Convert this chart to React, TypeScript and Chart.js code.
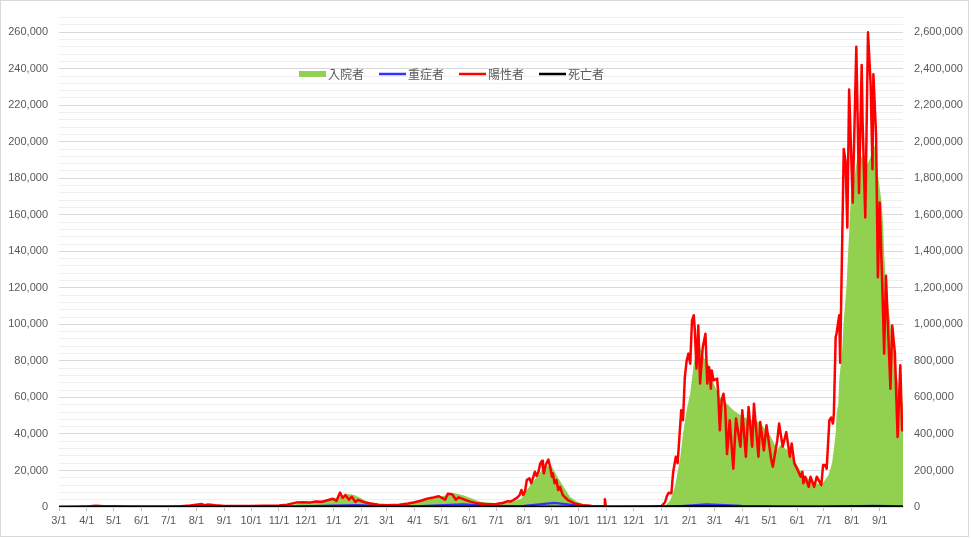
import React, { useEffect, useRef } from 'react';
import { Chart, registerables } from 'chart.js';

Chart.register(...registerables);

// ---------- data ----------
const seriesNames = ['入院者', '重症者', '陽性者', '死亡者'];

const xTickDates = [
  '2020-03-01', '2020-04-01', '2020-05-01', '2020-06-01', '2020-07-01', '2020-08-01', '2020-09-01',
  '2020-10-01', '2020-11-01', '2020-12-01', '2021-01-01', '2021-02-01', '2021-03-01', '2021-04-01',
  '2021-05-01', '2021-06-01', '2021-07-01', '2021-08-01', '2021-09-01', '2021-10-01', '2021-11-01',
  '2021-12-01', '2022-01-01', '2022-02-01', '2022-03-01', '2022-04-01', '2022-05-01', '2022-06-01',
  '2022-07-01', '2022-08-01', '2022-09-01',
];
const xTickLabels = [
  '3/1', '4/1', '5/1', '6/1', '7/1', '8/1', '9/1', '10/1', '11/1', '12/1', '1/1', '2/1', '3/1', '4/1',
  '5/1', '6/1', '7/1', '8/1', '9/1', '10/1', '11/1', '12/1', '1/1', '2/1', '3/1', '4/1', '5/1', '6/1',
  '7/1', '8/1', '9/1',
];
const xStartDate = '2020-03-01';
const xEndDate = '2022-09-27';

// 入院者 (right axis)
const hospitalized: [string, number][] = [
  ['2020-03-01', 0], ['2020-03-25', 1500], ['2020-04-10', 5000], ['2020-04-25', 9500],
  ['2020-05-05', 10500], ['2020-05-20', 3000], ['2020-06-10', 1000], ['2020-07-01', 1200],
  ['2020-07-20', 5000], ['2020-08-05', 13000], ['2020-08-15', 14000], ['2020-09-01', 8000],
  ['2020-10-01', 5000], ['2020-11-01', 6000], ['2020-11-20', 15000], ['2020-12-05', 22000],
  ['2020-12-20', 29000], ['2020-12-31', 47000], ['2021-01-10', 60000], ['2021-01-17', 71000],
  ['2021-01-24', 65500], ['2021-02-01', 47000], ['2021-02-08', 29000], ['2021-02-16', 20000],
  ['2021-02-21', 15000], ['2021-03-12', 14000], ['2021-04-07', 29000], ['2021-04-22', 47000],
  ['2021-05-07', 65500], ['2021-05-16', 75000], ['2021-05-25', 65000], ['2021-06-04', 47000],
  ['2021-06-13', 29000], ['2021-07-01', 20000], ['2021-07-20', 29000], ['2021-07-29', 47000],
  ['2021-08-04', 93000], ['2021-08-11', 138000], ['2021-08-17', 175000], ['2021-08-22', 211000],
  ['2021-08-28', 229000], ['2021-09-01', 220000], ['2021-09-06', 175000], ['2021-09-14', 111000],
  ['2021-09-21', 56000], ['2021-09-29', 29000], ['2021-10-06', 16000], ['2021-10-17', 11000],
  ['2021-11-01', 5000], ['2021-12-01', 2000], ['2022-01-01', 3000], ['2022-01-05', 5000],
  ['2022-01-11', 38000], ['2022-01-16', 111000], ['2022-01-22', 275000], ['2022-01-25', 402000],
  ['2022-01-29', 530000], ['2022-02-02', 621000], ['2022-02-06', 785000], ['2022-02-09', 857000],
  ['2022-02-13', 875000], ['2022-02-17', 820000], ['2022-02-24', 766000], ['2022-02-28', 676000],
  ['2022-03-07', 602000], ['2022-03-15', 566000], ['2022-03-22', 530000], ['2022-03-30', 502000],
  ['2022-04-06', 484000], ['2022-04-10', 475000], ['2022-04-14', 480000], ['2022-04-21', 459000],
  ['2022-05-02', 393000], ['2022-05-10', 311000], ['2022-05-13', 339000], ['2022-05-24', 302000],
  ['2022-06-01', 229000], ['2022-06-08', 175000], ['2022-06-16', 147000], ['2022-06-23', 129000],
  ['2022-06-29', 126000], ['2022-07-02', 147000], ['2022-07-06', 175000], ['2022-07-10', 239000],
  ['2022-07-14', 400000], ['2022-07-15', 512000], ['2022-07-17', 566000], ['2022-07-18', 700000],
  ['2022-07-21', 839000], ['2022-07-23', 1021000], ['2022-07-26', 1203000], ['2022-07-28', 1403000],
  ['2022-07-29', 1500000], ['2022-07-31', 1713000], ['2022-08-04', 1804000], ['2022-08-07', 1913000],
  ['2022-08-10', 1895000], ['2022-08-13', 1931000], ['2022-08-16', 1858000], ['2022-08-20', 1895000],
  ['2022-08-23', 1931000], ['2022-08-26', 1977000], ['2022-08-28', 1967000], ['2022-08-30', 1822000],
  ['2022-09-01', 1749000], ['2022-09-03', 1676000], ['2022-09-05', 1540000], ['2022-09-06', 1385000],
  ['2022-09-08', 1222000], ['2022-09-12', 1039000], ['2022-09-16', 875000], ['2022-09-20', 730000],
  ['2022-09-23', 621000], ['2022-09-27', 566000],
];

// 重症者 (left axis)
const severe: [string, number][] = [
  ['2020-03-01', 0], ['2020-04-30', 330], ['2020-06-15', 50], ['2020-08-20', 260],
  ['2020-10-01', 150], ['2020-11-15', 250], ['2020-12-31', 700], ['2021-01-26', 1040],
  ['2021-03-01', 420], ['2021-04-01', 400], ['2021-05-25', 1400], ['2021-06-30', 500],
  ['2021-08-01', 600], ['2021-09-04', 2200], ['2021-09-30', 800], ['2021-10-31', 150],
  ['2021-12-31', 50], ['2022-01-15', 250], ['2022-02-20', 1500], ['2022-03-31', 600],
  ['2022-05-15', 200], ['2022-06-30', 50], ['2022-08-25', 630], ['2022-09-27', 300],
];

// 陽性者 (left axis)
const positives: [string, number][] = [
  ['2020-03-01', 10], ['2020-03-20', 40], ['2020-04-01', 260], ['2020-04-11', 720],
  ['2020-04-20', 380], ['2020-05-01', 180], ['2020-05-15', 60], ['2020-06-01', 40],
  ['2020-06-20', 70], ['2020-07-01', 130], ['2020-07-15', 450], ['2020-07-25', 800],
  ['2020-08-01', 1300], ['2020-08-07', 1600], ['2020-08-10', 1000], ['2020-08-14', 1350],
  ['2020-08-22', 900], ['2020-09-01', 600], ['2020-09-15', 500], ['2020-10-01', 550],
  ['2020-10-15', 650], ['2020-11-01', 800], ['2020-11-10', 1300], ['2020-11-20', 2400],
  ['2020-11-28', 2600], ['2020-12-05', 2400], ['2020-12-12', 3000], ['2020-12-19', 2900],
  ['2020-12-26', 3800], ['2020-12-31', 4500], ['2021-01-04', 3300], ['2021-01-08', 7900],
  ['2021-01-11', 4900], ['2021-01-14', 6600], ['2021-01-18', 4000], ['2021-01-21', 5600],
  ['2021-01-25', 2800], ['2021-01-28', 3900], ['2021-02-04', 2600], ['2021-02-11', 1900],
  ['2021-02-20', 1300], ['2021-03-01', 1000], ['2021-03-15', 1300], ['2021-03-25', 1900],
  ['2021-04-01', 2600], ['2021-04-08', 3400], ['2021-04-15', 4500], ['2021-04-22', 5200],
  ['2021-04-28', 5900], ['2021-05-05', 4000], ['2021-05-08', 7200], ['2021-05-13', 7000],
  ['2021-05-17', 4000], ['2021-05-20', 5300], ['2021-05-27', 4000], ['2021-06-03', 2800],
  ['2021-06-10', 2000], ['2021-06-20', 1500], ['2021-07-01', 1700], ['2021-07-08', 2200],
  ['2021-07-14', 3200], ['2021-07-17', 3000], ['2021-07-20', 3800], ['2021-07-24', 5000],
  ['2021-07-27', 6500], ['2021-07-29', 9300], ['2021-07-31', 6600], ['2021-08-02', 8500],
  ['2021-08-04', 14700], ['2021-08-07', 15700], ['2021-08-09', 13000], ['2021-08-13', 19300],
  ['2021-08-15', 17000], ['2021-08-17', 19300], ['2021-08-19', 23900], ['2021-08-21', 25300],
  ['2021-08-22', 21100], ['2021-08-23', 18400], ['2021-08-25', 23000], ['2021-08-28', 26000],
  ['2021-08-30', 22000], ['2021-09-01', 16600], ['2021-09-02', 18400], ['2021-09-04', 13000],
  ['2021-09-06', 14700], ['2021-09-08', 9300], ['2021-09-10', 11000], ['2021-09-13', 6600],
  ['2021-09-15', 5600], ['2021-09-19', 3700], ['2021-09-26', 2000], ['2021-10-05', 1000],
  ['2021-10-15', 500], ['2021-10-29', 300], ['2021-10-30', 4300], ['2021-10-31', 300],
  ['2021-11-15', 150], ['2021-12-01', 100], ['2021-12-20', 200], ['2022-01-01', 500],
  ['2022-01-05', 2600], ['2022-01-07', 6000], ['2022-01-09', 7800], ['2022-01-12', 7500],
  ['2022-01-14', 19000], ['2022-01-17', 27500], ['2022-01-19', 24000], ['2022-01-23', 53000],
  ['2022-01-25', 47500], ['2022-01-27', 71000], ['2022-01-29', 80000], ['2022-01-31', 84000],
  ['2022-02-02', 78500], ['2022-02-04', 102000], ['2022-02-06', 105000], ['2022-02-07', 98000],
  ['2022-02-09', 75800], ['2022-02-11', 99400], ['2022-02-13', 67600], ['2022-02-16', 87600],
  ['2022-02-19', 94900], ['2022-02-21', 67600], ['2022-02-23', 76600], ['2022-02-25', 64800],
  ['2022-02-26', 74800], ['2022-02-28', 69400], ['2022-03-04', 70300], ['2022-03-05', 63900],
  ['2022-03-07', 42000], ['2022-03-09', 58400], ['2022-03-11', 62000], ['2022-03-13', 54800],
  ['2022-03-15', 29000], ['2022-03-18', 47500], ['2022-03-22', 21000], ['2022-03-25', 48400],
  ['2022-03-30', 33000], ['2022-04-01', 53000], ['2022-04-05', 27500], ['2022-04-08', 54800],
  ['2022-04-12', 33000], ['2022-04-14', 56600], ['2022-04-19', 27500], ['2022-04-21', 46600],
  ['2022-04-25', 31000], ['2022-04-28', 44800], ['2022-05-03', 26600], ['2022-05-05', 22000],
  ['2022-05-10', 36600], ['2022-05-12', 45700], ['2022-05-16', 33000], ['2022-05-20', 41000],
  ['2022-05-24', 27500], ['2022-05-26', 34800], ['2022-05-29', 23900], ['2022-06-01', 21000],
  ['2022-06-05', 16600], ['2022-06-07', 19300], ['2022-06-08', 13000], ['2022-06-10', 16600],
  ['2022-06-14', 11000], ['2022-06-16', 16600], ['2022-06-20', 11000], ['2022-06-23', 16600],
  ['2022-06-28', 12000], ['2022-06-30', 23000], ['2022-07-02', 23000], ['2022-07-04', 21000],
  ['2022-07-07', 47500], ['2022-07-09', 49000], ['2022-07-11', 45700], ['2022-07-12', 51000],
  ['2022-07-14', 93000], ['2022-07-15', 95000], ['2022-07-18', 105000], ['2022-07-19', 79000],
  ['2022-07-23', 196000], ['2022-07-25', 189500], ['2022-07-27', 153000], ['2022-07-29', 228600],
  ['2022-08-02', 166700], ['2022-08-06', 252000], ['2022-08-09', 172000], ['2022-08-12', 242000],
  ['2022-08-13', 211000], ['2022-08-16', 158600], ['2022-08-19', 260000], ['2022-08-22', 231000],
  ['2022-08-24', 185000], ['2022-08-25', 237000], ['2022-08-28', 204000], ['2022-08-30', 125800],
  ['2022-09-01', 166700], ['2022-09-04', 120000], ['2022-09-06', 84000], ['2022-09-08', 126700],
  ['2022-09-10', 102000], ['2022-09-13', 64800], ['2022-09-15', 99400], ['2022-09-18', 84000],
  ['2022-09-21', 38400], ['2022-09-24', 77600], ['2022-09-26', 42000], ['2022-09-27', 45000],
];

// 死亡者 (left axis)
const deaths: [string, number][] = [
  ['2020-03-01', 0], ['2020-05-01', 20], ['2020-08-20', 15], ['2021-01-27', 110],
  ['2021-05-20', 110], ['2021-09-01', 60], ['2021-11-15', 5], ['2022-02-22', 320],
  ['2022-04-01', 60], ['2022-06-15', 20], ['2022-08-30', 350], ['2022-09-27', 90],
];

const leftMax = 268000;
const leftStep = 4000;
const leftMajor = 20000;
const rightMax = 2680000;
const rightStep = 200000;

// ---------- helpers ----------
const START = (() => {
  const [y, m, d] = xStartDate.split('-').map(Number);
  return Date.UTC(y, m - 1, d);
})();
const dayOf = (s: string) => {
  const [y, m, d] = s.split('-').map(Number);
  return Math.round((Date.UTC(y, m - 1, d) - START) / 86400000);
};
const toPoints = (arr: [string, number][]) => arr.map(([d, v]) => ({ x: dayOf(d), y: v }));
const fmt = (v: number) => Math.round(v).toLocaleString('en-US');
const stepTicks = (max: number, step: number) => {
  const out: { value: number }[] = [];
  for (let v = 0; v <= max + 0.5; v += step) out.push({ value: v });
  return out;
};

const TICK_FONT = { family: '"Liberation Sans", Arial, sans-serif', size: 11 };
const TEXT_COLOR = '#595959';

const framePlugin = {
  id: 'frameAndLegend',
  beforeDraw(chart: any) {
    const c = chart.ctx;
    c.save();
    c.fillStyle = '#ffffff';
    c.fillRect(0, 0, chart.width, chart.height);
    c.strokeStyle = '#d9d9d9';
    c.lineWidth = 1;
    c.strokeRect(0.5, 0.5, 968, 536);
    c.restore();
  },
  afterDraw(chart: any) {
    const c = chart.ctx;
    c.save();
    c.font = '12px "Noto Sans CJK JP", sans-serif';
    const sym = 27;
    const gapText = 2;
    const gapItem = 15;
    const items = chart.data.datasets.map((ds: any) => ({ ds, w: c.measureText(ds.label).width }));
    const total = items.reduce((a: number, it: any) => a + sym + gapText + it.w, 0) + gapItem * (items.length - 1);
    let x = 451.5 - total / 2;
    const y = 74;
    items.forEach((it: any) => {
      const ds = it.ds;
      if (ds.fill) {
        c.fillStyle = ds.backgroundColor;
        c.fillRect(x, y - 3, sym, 6);
      } else {
        c.strokeStyle = ds.borderColor;
        c.lineWidth = 2.5;
        c.beginPath();
        c.moveTo(x, y);
        c.lineTo(x + sym, y);
        c.stroke();
      }
      c.fillStyle = TEXT_COLOR;
      c.textBaseline = 'middle';
      c.textAlign = 'left';
      c.fillText(ds.label, x + sym + gapText, y);
      x += sym + gapText + it.w + gapItem;
    });
    c.restore();
  },
};

export default function App() {
  const canvasRef = useRef<HTMLCanvasElement | null>(null);

  useEffect(() => {
    if (!canvasRef.current) return;
    const tickDays = xTickDates.map(dayOf);
    const chart = new Chart(canvasRef.current, {
      type: 'line',
      data: {
        datasets: [
          {
            label: seriesNames[0],
            data: toPoints(hospitalized),
            yAxisID: 'y2',
            fill: 'origin',
            backgroundColor: '#92d050',
            borderColor: 'rgba(0,0,0,0)',
            borderWidth: 0,
            pointRadius: 0,
            tension: 0,
            order: 3,
          },
          {
            label: seriesNames[1],
            data: toPoints(severe),
            yAxisID: 'y',
            fill: false,
            borderColor: '#3333ff',
            borderWidth: 2.25,
            pointRadius: 0,
            tension: 0,
            order: 2,
          },
          {
            label: seriesNames[2],
            data: toPoints(positives),
            yAxisID: 'y',
            fill: false,
            borderColor: '#ff0000',
            borderWidth: 2.5,
            borderJoinStyle: 'round',
            borderCapStyle: 'round',
            pointRadius: 0,
            tension: 0,
            order: 1,
          },
          {
            label: seriesNames[3],
            data: toPoints(deaths),
            yAxisID: 'y',
            fill: false,
            borderColor: '#000000',
            borderWidth: 2.75,
            pointRadius: 0,
            tension: 0,
            order: 0,
          },
        ],
      } as any,
      options: {
        responsive: false,
        animation: false,
        events: [],
        layout: { padding: { top: 16, left: 0, right: 0, bottom: 0 } },
        plugins: { legend: { display: false }, tooltip: { enabled: false } },
        scales: {
          x: {
            type: 'linear',
            min: 0,
            max: dayOf(xEndDate),
            afterBuildTicks: (scale: any) => {
              scale.ticks = tickDays.map((v) => ({ value: v }));
            },
            afterFit: (scale: any) => {
              scale.height = 31;
            },
            ticks: {
              autoSkip: false,
              maxRotation: 0,
              minRotation: 0,
              padding: 3,
              color: TEXT_COLOR,
              font: TICK_FONT,
              callback: (v: any) => {
                const i = tickDays.indexOf(Number(v));
                return i >= 0 ? xTickLabels[i] : '';
              },
            },
            grid: { drawOnChartArea: false, drawTicks: true, tickLength: 4, color: '#bfbfbf' },
            border: { display: true, color: '#d9d9d9' },
          },
          y: {
            position: 'left',
            min: 0,
            max: leftMax,
            afterBuildTicks: (scale: any) => {
              scale.ticks = stepTicks(leftMax, leftStep);
            },
            afterFit: (scale: any) => {
              scale.width = 59;
            },
            ticks: {
              autoSkip: false,
              padding: 11,
              color: TEXT_COLOR,
              font: TICK_FONT,
              callback: (v: any) => (Number(v) % leftMajor === 0 ? fmt(Number(v)) : ''),
            },
            grid: {
              drawTicks: false,
              color: (ctx: any) => (ctx.tick && ctx.tick.value % leftMajor === 0 ? '#d9d9d9' : '#efefef'),
              lineWidth: 1,
            },
            border: { display: false },
          },
          y2: {
            position: 'right',
            min: 0,
            max: rightMax,
            afterBuildTicks: (scale: any) => {
              scale.ticks = stepTicks(rightMax, rightStep);
            },
            afterFit: (scale: any) => {
              scale.width = 68;
            },
            ticks: {
              autoSkip: false,
              padding: 11,
              color: TEXT_COLOR,
              font: TICK_FONT,
              callback: (v: any) => fmt(Number(v)),
            },
            grid: { display: false, drawOnChartArea: false, drawTicks: false },
            border: { display: false },
          },
        },
      } as any,
      plugins: [framePlugin],
    });
    return () => chart.destroy();
  }, []);

  return (
    <div style={{ position: 'absolute', left: 0, top: 0, width: 971, height: 538, background: '#fff' }}>
      <canvas ref={canvasRef} width={971} height={538} style={{ display: 'block', width: 971, height: 538 }} />
    </div>
  );
}
